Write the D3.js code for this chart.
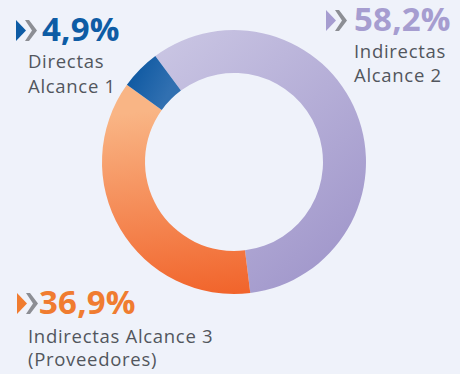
<!DOCTYPE html>
<html>
<head>
<meta charset="utf-8">
<script src="https://cdn.jsdelivr.net/npm/d3@7"></script>
<style>
  html, body { margin: 0; padding: 0; background: #eff2fa; }
  svg { display: block; }
</style>
</head>
<body>
<svg id="chart" width="460" height="374"></svg>
<script>
// Emission shares by scope (%), drawn clockwise starting with Alcance 2
const categories = ["Indirectas Alcance 2", "Indirectas Alcance 3 (Proveedores)", "Directas Alcance 1"];
const values = [58.2, 36.9, 4.9];
const labelLines = [["Indirectas", "Alcance 2"], ["Indirectas Alcance 3", "(Proveedores)"], ["Directas", "Alcance 1"]];
const accentColors = ["#a69dd0", "#f07c30", "#0e5ca5"];
const gradientStops = [["#cbc7e4", "#9f95ca"], ["#f9b585", "#f1632a"], ["#0d58a1", "#3170b1"]];

const svg = d3.select("#chart");
const W = 460, H = 374;
svg.append("rect").attr("width", W).attr("height", H).attr("fill", "#eff2fa");

const cx = 234, cy = 162, outerR = 132, innerR = 89;

const defs = svg.append("defs");
// gradient directions per slice (in chart coordinates, relative to centre)
const gradVec = [
  [[-90, -120], [120, 110]],
  [[0, -60], [20, 132]],
  [[-110, -80], [-70, -60]]
];
gradientStops.forEach((s, i) => {
  const g = defs.append("linearGradient")
    .attr("id", "grad" + i)
    .attr("gradientUnits", "userSpaceOnUse")
    .attr("x1", gradVec[i][0][0]).attr("y1", gradVec[i][0][1])
    .attr("x2", gradVec[i][1][0]).attr("y2", gradVec[i][1][1]);
  g.append("stop").attr("offset", "0%").attr("stop-color", s[0]);
  g.append("stop").attr("offset", "100%").attr("stop-color", s[1]);
});

const startA = -36.6 * Math.PI / 180;
const pie = d3.pie().sort(null).startAngle(startA).endAngle(startA + 2 * Math.PI);
const arc = d3.arc().innerRadius(innerR).outerRadius(outerR);

const g = svg.append("g").attr("transform", `translate(${cx},${cy})`);
g.selectAll("path")
  .data(pie(values))
  .join("path")
  .attr("d", arc)
  .attr("fill", (d, i) => `url(#grad${i})`);

// Callout labels
const fmt = v => d3.format(".1f")(v).replace(".", ",") + "%";
const labelPos = [
  { x: 354, y: 31, iconX: 326, lineY: [58, 82] },
  { x: 39, y: 314, iconX: 17, lineY: [343, 366], textX: 28 },
  { x: 42, y: 41, iconX: 16, lineY: [68, 93], textX: 28 }
];

labelPos.forEach((p, i) => {
  const grp = svg.append("g");
  // double chevron marker: coloured arrow followed by grey chevron
  const h = 21, top = p.y - h;
  const ix = p.iconX;
  grp.append("path")
    .attr("d", `M${ix + 9},${top} L${ix + 13},${top} L${ix + 21},${top + h / 2} L${ix + 13},${top + h} L${ix + 9},${top + h} L${ix + 16},${top + h / 2} Z`)
    .attr("fill", "#8c8e94");
  grp.append("path")
    .attr("d", `M${ix},${top} L${ix + 10},${top + h / 2} L${ix},${top + h} Z`)
    .attr("fill", accentColors[i]);
  grp.append("text")
    .attr("x", p.x).attr("y", p.y)
    .attr("font-family", "'Open Sans', sans-serif")
    .attr("font-weight", 700)
    .attr("font-size", 33)
    .attr("letter-spacing", 0.2)
    .attr("fill", accentColors[i])
    .text(fmt(values[i]));
  labelLines[i].forEach((line, j) => {
    grp.append("text")
      .attr("x", p.textX !== undefined ? p.textX : p.x)
      .attr("y", p.lineY[j])
      .attr("font-family", "'Open Sans', sans-serif")
      .attr("font-weight", 400)
      .attr("font-size", 18.5)
      .attr("letter-spacing", 0.7)
      .attr("fill", "#52565d")
      .text(line);
  });
});
</script>
</body>
</html>
